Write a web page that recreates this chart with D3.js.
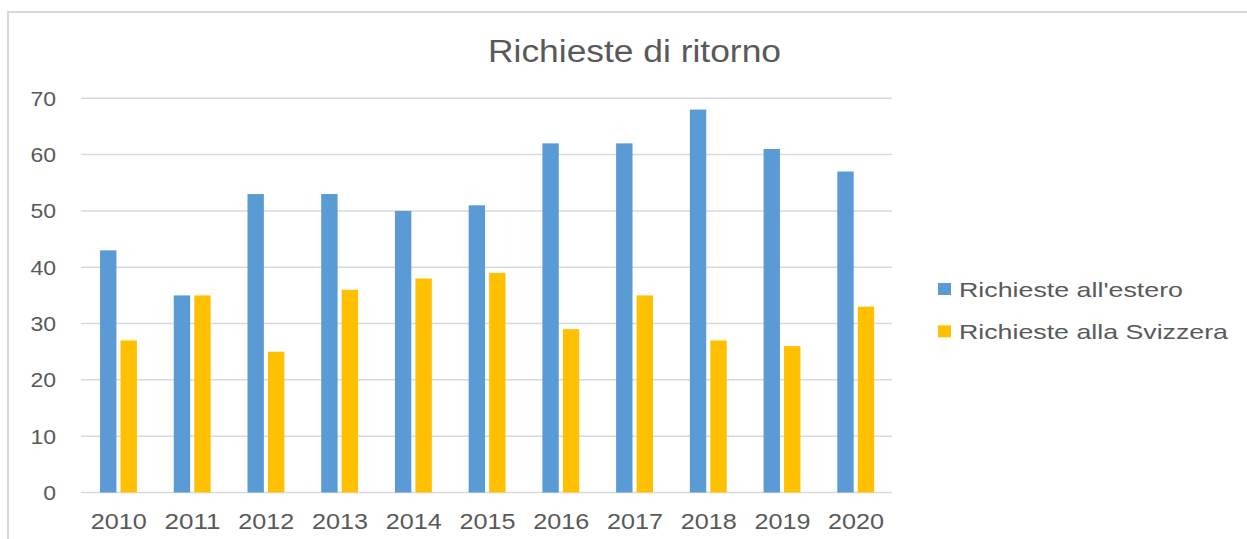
<!DOCTYPE html>
<html><head><meta charset="utf-8">
<script src="https://cdn.jsdelivr.net/npm/d3@7"></script>
<style>body{margin:0;background:#fff}svg{display:block}text{font-family:"Liberation Sans",Arial,sans-serif;fill:#595959}</style>
</head><body>
<script>
const categories = ["2010","2011","2012","2013","2014","2015","2016","2017","2018","2019","2020"];
const estero = [43,35,53,53,50,51,62,62,68,61,57];
const svizzera = [27,35,25,36,38,39,29,35,27,26,33];
const seriesNames = ["Richieste all'estero","Richieste alla Svizzera"];
const seriesColors = ["#5B9BD5","#FFC000"];
const yTicks = [0,10,20,30,40,50,60,70];
const title = "Richieste di ritorno";

const W = 1247, H = 539;
const svg = d3.select("body").append("svg").attr("width", W).attr("height", H);

// outer chart border (top and left visible)
svg.append("path").attr("d", `M8,${H} L8,12 L${W},12`).attr("fill","none").attr("stroke","#D9D9D9").attr("stroke-width",2);

const x0 = d3.scaleBand().domain(categories).range([81, 892]).padding(0);
const y = d3.scaleLinear().domain([0, 70]).range([492.5, 98.3]);

// gridlines
svg.append("g").selectAll("line").data(yTicks).join("line")
  .attr("x1", 81).attr("x2", 892)
  .attr("y1", d => y(d)).attr("y2", d => y(d))
  .attr("stroke", "#D9D9D9").attr("stroke-width", 1.5);

// y labels
svg.append("g").selectAll("text").data(yTicks).join("text")
  .attr("x", 56).attr("y", d => y(d) + 7.5)
  .attr("text-anchor", "end").attr("font-size", 21)
  .attr("textLength", d => String(d).length * 12.8).attr("lengthAdjust", "spacingAndGlyphs")
  .text(d => d);

// bars
const x1 = d3.scaleBand().domain([0,1]).range([0, x0.bandwidth()]).paddingOuter(0.9).paddingInner(0.2);
const table = categories.map((c,i) => ({c, v:[estero[i], svizzera[i]]}));
const groups = svg.append("g").selectAll("g").data(table).join("g")
  .attr("transform", d => `translate(${x0(d.c)+0.6},0)`);
groups.selectAll("rect").data(d => d.v.map((v,k)=>({v,k}))).join("rect")
  .attr("x", d => x1(d.k)).attr("width", x1.bandwidth())
  .attr("y", d => y(d.v)).attr("height", d => y(0) - y(d.v))
  .attr("fill", d => seriesColors[d.k]);

// x labels
svg.append("g").selectAll("text").data(categories).join("text")
  .attr("x", d => x0(d) + x0.bandwidth()/2 + 1).attr("y", 529)
  .attr("text-anchor", "middle").attr("font-size", 21.5)
  .attr("textLength", 56).attr("lengthAdjust", "spacingAndGlyphs")
  .text(d => d);

// title
svg.append("text").attr("x", 634.5).attr("y", 62).attr("text-anchor","middle")
  .attr("font-size", 31).attr("textLength", 293).attr("lengthAdjust","spacingAndGlyphs")
  .text(title);

// legend
const lg = svg.append("g").selectAll("g").data(seriesNames).join("g")
  .attr("transform", (d,i) => `translate(938,${283 + i*42.3})`);
lg.append("rect").attr("width", 13).attr("height", 12).attr("fill", (d,i) => seriesColors[i]);
lg.append("text").attr("x", 21).attr("y", 13.7).attr("font-size", 21)
  .attr("textLength", (d,i) => i===0 ? 224 : 269).attr("lengthAdjust","spacingAndGlyphs")
  .text(d => d);
</script>
</body></html>
